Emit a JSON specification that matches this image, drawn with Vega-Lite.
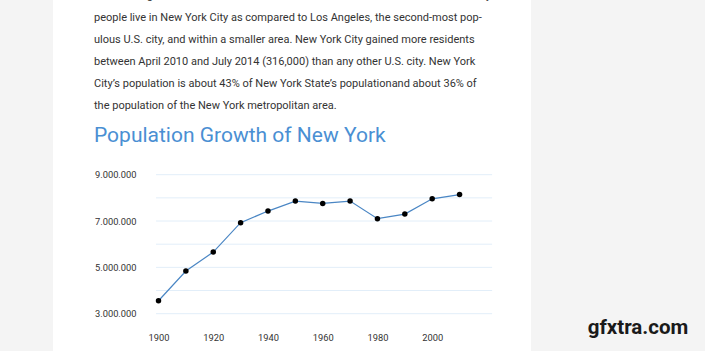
{
  "$schema": "https://vega.github.io/schema/vega-lite/v6.json",
  "width": 478,
  "height": 351,
  "autosize": {"type": "none"},
  "padding": {"left": 53, "top": 0, "right": 174, "bottom": 0},
  "background": "#f4f4f4",
  "view": {"fill": "#ffffff", "stroke": null},
  "title": {
    "text": [
      "than outmigration since the 2010 United States Census. More than twice as many",
      "people live in New York City as compared to Los Angeles, the second-most pop-",
      "ulous U.S. city, and within a smaller area. New York City gained more residents",
      "between April 2010 and July 2014 (316,000) than any other U.S. city. New York",
      "City’s population is about 43% of New York State’s populationand about 36% of",
      "the population of the New York metropolitan area."
    ],
    "subtitle": "Population Growth of New York",
    "anchor": "start",
    "frame": "group",
    "dx": 41,
    "offset": -146,
    "font": "Roboto, sans-serif",
    "fontSize": 11,
    "fontWeight": "normal",
    "color": "#333333",
    "lineHeight": 22,
    "subtitleFont": "Roboto, sans-serif",
    "subtitleFontSize": 21,
    "subtitleFontWeight": "normal",
    "subtitleColor": "#4a8fd3",
    "subtitlePadding": 14
  },
  "layer": [
    {
      "data": {
        "values": [
          {"population": 3000000},
          {"population": 4000000},
          {"population": 5000000},
          {"population": 6000000},
          {"population": 7000000},
          {"population": 8000000},
          {"population": 9000000}
        ]
      },
      "mark": {"type": "rule", "color": "#e2eef9", "strokeWidth": 1},
      "encoding": {
        "x": {
          "datum": 1899.1,
          "type": "quantitative",
          "scale": {"domain": [1861.45, 2036.1], "nice": false, "zero": false},
          "axis": {
            "title": null,
            "values": [1900, 1920, 1940, 1960, 1980, 2000],
            "format": "d",
            "grid": false,
            "domain": false,
            "ticks": false,
            "labelPadding": 0,
            "offset": -18,
            "labelFont": "Roboto, sans-serif",
            "labelFontSize": 9.3,
            "labelColor": "#333333"
          }
        },
        "x2": {"datum": 2021.9},
        "y": {
          "field": "population",
          "type": "quantitative",
          "scale": {"domain": [1390000, 16540000], "nice": false, "zero": false},
          "axis": {
            "title": null,
            "values": [3000000, 5000000, 7000000, 9000000],
            "labelExpr": "replace(replace(format(datum.value, ','), ',', '.'), ',', '.')",
            "grid": false,
            "domain": false,
            "ticks": false,
            "labelPadding": 0,
            "offset": -83,
            "labelFont": "Roboto, sans-serif",
            "labelFontSize": 9.3,
            "labelColor": "#333333"
          }
        }
      }
    },
    {
      "data": {
        "values": [
          {"year": 1900, "population": 3560000},
          {"year": 1910, "population": 4840000},
          {"year": 1920, "population": 5660000},
          {"year": 1930, "population": 6930000},
          {"year": 1940, "population": 7430000},
          {"year": 1950, "population": 7860000},
          {"year": 1960, "population": 7760000},
          {"year": 1970, "population": 7860000},
          {"year": 1980, "population": 7100000},
          {"year": 1990, "population": 7300000},
          {"year": 2000, "population": 7960000},
          {"year": 2010, "population": 8140000}
        ]
      },
      "encoding": {
        "x": {
          "field": "year",
          "type": "quantitative",
          "scale": {"domain": [1861.45, 2036.1], "nice": false, "zero": false},
          "axis": {
            "title": null,
            "values": [1900, 1920, 1940, 1960, 1980, 2000],
            "format": "d",
            "grid": false,
            "domain": false,
            "ticks": false,
            "labelPadding": 0,
            "offset": -18,
            "labelFont": "Roboto, sans-serif",
            "labelFontSize": 9.3,
            "labelColor": "#333333"
          }
        },
        "y": {
          "field": "population",
          "type": "quantitative",
          "scale": {"domain": [1390000, 16540000], "nice": false, "zero": false},
          "axis": {
            "title": null,
            "values": [3000000, 5000000, 7000000, 9000000],
            "labelExpr": "replace(replace(format(datum.value, ','), ',', '.'), ',', '.')",
            "grid": false,
            "domain": false,
            "ticks": false,
            "labelPadding": 0,
            "offset": -83,
            "labelFont": "Roboto, sans-serif",
            "labelFontSize": 9.3,
            "labelColor": "#333333"
          }
        }
      },
      "layer": [
        {"mark": {"type": "line", "color": "#4a86c4", "strokeWidth": 1.2}},
        {"mark": {"type": "point", "filled": true, "color": "#000000", "size": 30, "opacity": 1}}
      ]
    },
    {
      "data": {"values": [{"t": "gfxtra.com"}]},
      "mark": {"type": "text", "font": "Roboto, sans-serif", "fontSize": 20.5, "fontWeight": "bold", "color": "#1a1a1a", "dx": 346, "dy": 152.5},
      "encoding": {"text": {"field": "t"}}
    }
  ]
}
